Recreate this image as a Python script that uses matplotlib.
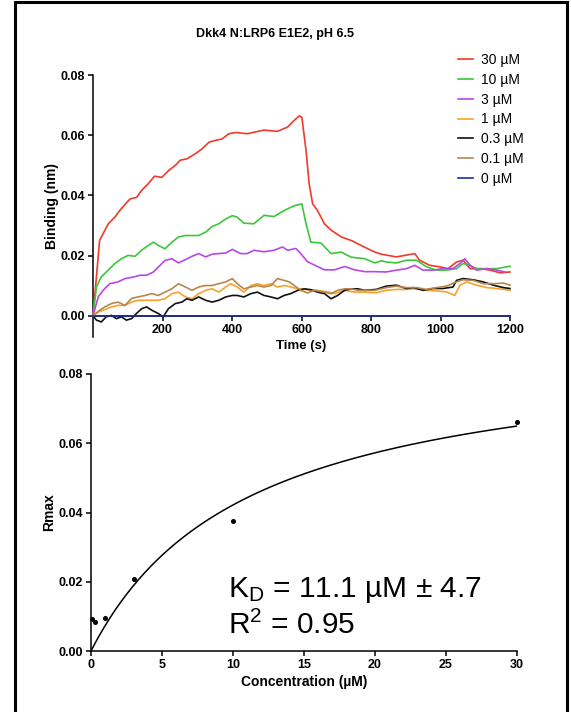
import numpy as np
import matplotlib
matplotlib.use('Agg')
import matplotlib.pyplot as plt
from matplotlib.patches import Rectangle

plt.rcParams['font.family'] = ['Liberation Sans', 'DejaVu Sans']
plt.rcParams['mathtext.fontset'] = 'custom'
plt.rcParams['mathtext.rm'] = 'Liberation Sans'
plt.rcParams['mathtext.it'] = 'Liberation Sans:italic'
plt.rcParams['mathtext.bf'] = 'Liberation Sans:bold'

# association / dissociation traces (time in s, binding in nm)
red_t = [0, 19, 29, 44, 63, 77, 92, 106, 126, 140, 159, 177, 198, 218, 237, 251, 271, 295, 314, 334,
         353, 372, 391, 411, 444, 492, 531, 560, 574, 593, 601, 613, 622, 632, 646, 666, 686, 715, 744, 782,
         811, 830, 844, 873, 902, 926, 940, 969, 998, 1022, 1046, 1065, 1085, 1114, 1143, 1172, 1200]
red_v = [0, .0251, .0273, .0306, .0328, .035, .037, .0388, .0394, .0417, .0439, .0464, .046, .0483, .05, .0517, .0522, .0539, .0555, .0577,
         .0583, .0588, .0605, .0609, .0605, .0617, .0613, .0627, .0644, .0664, .066, .055, .0439, .0372, .035, .0306, .0284, .0262, .025, .0228,
         .0212, .0205, .0202, .0196, .0202, .0207, .0185, .0168, .0163, .0157, .0179, .0185, .0157, .0157, .0152, .0143, .0146]

green_t = [0, 10, 24, 44, 63, 82, 101, 121, 140, 159, 174, 188, 207, 227, 246, 266, 285, 304, 324, 343,
           362, 382, 401, 415, 434, 463, 492, 521, 550, 579, 601, 613, 627, 656, 685, 714, 743, 782, 811, 830,
           844, 873, 902, 931, 960, 988, 1017, 1046, 1065, 1085, 1104, 1133, 1162, 1200]
green_v = [0, .0096, .013, .0152, .0174, .019, .0201, .0198, .0218, .0234, .0245, .0234, .0223, .0245, .0262, .0267, .0267, .0267, .0278, .0297,
           .0306, .0322, .0333, .0328, .0308, .0306, .0334, .033, .035, .0366, .0372, .0306, .0245, .0242, .0207, .0212, .0195, .019, .0176, .0183,
           .0179, .0176, .0185, .0185, .0163, .0152, .0152, .0157, .0174, .0168, .0157, .0157, .0157, .0165]

purple_t = [0, 15, 29, 48, 72, 92, 116, 135, 154, 174, 188, 207, 227, 246, 266, 285, 304, 324, 343, 362,
            382, 401, 425, 444, 463, 492, 521, 545, 560, 584, 598, 617, 637, 666, 695, 724, 753, 782, 811, 844,
            873, 902, 926, 950, 979, 1007, 1036, 1056, 1070, 1085, 1104, 1133, 1162, 1185]
purple_v = [0, .0063, .0085, .0107, .0113, .0124, .0129, .0135, .0135, .0146, .0162, .0184, .019, .0176, .0187, .0198, .0207, .0196, .0205, .0207,
            .0209, .0221, .0207, .0207, .0218, .0213, .0218, .0229, .0218, .0224, .0207, .018, .0169, .0153, .0153, .0164, .0153, .0147, .0147, .0146,
            .0152, .0157, .0168, .0152, .0152, .0157, .0157, .0174, .019, .0168, .0152, .0157, .0152, .0146]

orange_t = [0, 15, 34, 53, 72, 92, 111, 130, 150, 169, 188, 207, 227, 246, 266, 285, 304, 324, 343, 362,
            382, 396, 415, 434, 454, 473, 492, 512, 531, 550, 569, 589, 617, 646, 675, 695, 724, 753, 782, 815,
            844, 873, 902, 931, 960, 988, 1017, 1041, 1056, 1075, 1104, 1133, 1162, 1200]
orange_v = [0, .0013, .0021, .003, .0035, .0035, .0046, .0052, .0052, .0052, .0052, .0057, .0074, .0079, .0063, .0057, .0074, .0085, .009, .0079,
            .0096, .0107, .0096, .0079, .0101, .0107, .0101, .0107, .0096, .0101, .0096, .009, .0087, .0085, .0079, .0074, .0085, .0079, .0079, .0077,
            .0085, .0088, .0088, .0091, .0085, .0083, .008, .0068, .0102, .0113, .0102, .0094, .0091, .0085]

black_t = [0, 10, 24, 38, 53, 67, 82, 96, 111, 125, 140, 154, 169, 188, 202, 217, 237, 256, 270, 285,
           304, 324, 343, 362, 382, 401, 415, 434, 454, 473, 492, 512, 531, 550, 569, 589, 608, 627, 646, 666,
           685, 704, 724, 743, 762, 782, 815, 844, 873, 902, 921, 950, 979, 1007, 1036, 1046, 1065, 1094, 1123, 1152,
           1181, 1200]
black_v = [0, -.0014, -.002, -.0003, .0002, -.0009, -.0003, -.0014, -.0009, .0008, .0024, .003, .0019, .0008, -.0003, .0024, .0041, .0046, .0057, .0052,
           .0063, .0052, .0046, .0052, .0063, .0068, .0068, .0063, .0074, .0079, .0068, .0063, .0057, .0068, .0074, .0085, .009, .0087, .0079, .0074,
           .0057, .0068, .0085, .009, .009, .0085, .0088, .0099, .0102, .0091, .0094, .0085, .0091, .0091, .0096, .0118, .0124, .012, .0113, .0102,
           .0094, .0091]

brown_t = [0, 19, 34, 53, 72, 92, 111, 130, 150, 169, 188, 207, 227, 246, 266, 285, 304, 324, 343, 362,
           382, 401, 415, 434, 454, 473, 492, 512, 531, 550, 565, 579, 598, 617, 637, 666, 685, 704, 724, 743,
           762, 782, 811, 844, 873, 902, 931, 960, 988, 1017, 1046, 1065, 1094, 1123, 1152, 1181, 1200]
brown_v = [0, .0019, .003, .0041, .0046, .0035, .0058, .0063, .0068, .0074, .0068, .0079, .009, .0107, .0096, .0085, .0096, .0101, .0101, .0107,
           .0113, .0124, .0107, .009, .0096, .0101, .0096, .0101, .0124, .0118, .0113, .0101, .0085, .0076, .0085, .0079, .0074, .0085, .009, .009,
           .0085, .0085, .0085, .0094, .0099, .0094, .0094, .0088, .0094, .0099, .0113, .012, .0118, .0107, .0107, .0109, .0102]

blank_t = [0, 1200]
blank_v = [0, 0]

# steady state fit
conc = [0.1, 0.3, 1, 3, 10, 30]
rmax = [0.0092, 0.0084, 0.0096, 0.0208, 0.0375, 0.066]
kd = 11.1
bmax = 0.089

fig = plt.figure(figsize=(5.71, 7.12), dpi=100)

# ---- top panel ----
ax1 = fig.add_axes([93/571, 1 - 337/712, 417/571, 262/712])
series = [
    (red_t, red_v, '#f2392b', '30 µM'),
    (green_t, green_v, '#3cc63a', '10 µM'),
    (purple_t, purple_v, '#b847e6', '3 µM'),
    (orange_t, orange_v, '#f8a12e', '1 µM'),
    (black_t, black_v, '#111111', '0.3 µM'),
    (brown_t, brown_v, '#b5874e', '0.1 µM'),
    (blank_t, blank_v, '#1f2e9c', '0 µM'),
]
for t, v, c, lab in series:
    ax1.plot(t, v, color=c, lw=1.2, label=lab, zorder=3 if lab != '0 µM' else 4, clip_on=False)

ax1.set_xlim(0, 1200)
ax1.set_ylim(-0.007, 0.08)
ax1.spines['top'].set_visible(False)
ax1.spines['right'].set_visible(False)
ax1.spines['bottom'].set_position(('data', 0))
for s in ['left', 'bottom']:
    ax1.spines[s].set_linewidth(1.1)
ax1.set_xticks([200, 400, 600, 800, 1000, 1200], labels=['200', '400', '600', '800', '1000', '1200'],
               fontweight='bold', fontsize=9)
ax1.set_yticks([0, 0.02, 0.04, 0.06, 0.08], labels=['0.00', '0.02', '0.04', '0.06', '0.08'],
               fontweight='bold', fontsize=9)
ax1.tick_params(direction='out', length=3.5, width=1.1, pad=2)
ax1.set_ylabel('Binding (nm)', fontweight='bold', fontsize=10, labelpad=1)
ax1.set_xlabel('Time (s)', fontweight='bold', fontsize=9.5, labelpad=3.5)

fig.text(275/571, 1 - 34/712, 'Dkk4 N:LRP6 E1E2, pH 6.5', ha='center', va='center',
         fontweight='bold', fontsize=9)

fig.legend(loc='upper left', bbox_to_anchor=(458/571, 1 - 53/712), frameon=False, fontsize=10,
           handlelength=1.1, handletextpad=0.55, labelspacing=0.42, borderpad=0, borderaxespad=0)

# ---- bottom panel ----
ax2 = fig.add_axes([91/571, 1 - 651/712, 426/571, 277/712])
xfit = np.linspace(0, 30, 200)
ax2.plot(xfit, bmax * xfit / (kd + xfit), color='black', lw=1.1)
ax2.plot(conc, rmax, 'o', color='black', ms=2.6, clip_on=False)
ax2.set_xlim(0, 30)
ax2.set_ylim(0, 0.08)
ax2.spines['top'].set_visible(False)
ax2.spines['right'].set_visible(False)
for s in ['left', 'bottom']:
    ax2.spines[s].set_linewidth(1.1)
ax2.set_xticks([0, 5, 10, 15, 20, 25, 30], labels=['0', '5', '10', '15', '20', '25', '30'],
               fontweight='bold', fontsize=9)
ax2.set_yticks([0, 0.02, 0.04, 0.06, 0.08], labels=['0.00', '0.02', '0.04', '0.06', '0.08'],
               fontweight='bold', fontsize=9)
ax2.tick_params(direction='out', length=3.5, width=1.1, pad=2)
ax2.set_ylabel('Rmax', fontweight='bold', fontsize=10, labelpad=2)
ax2.set_xlabel('Concentration (µM)', fontweight='bold', fontsize=10, labelpad=3)

fig.text(228/571, 1 - 597/712, r'K$_{\mathrm{D}}$ = 11.1 µM ± 4.7', ha='left', va='baseline', fontsize=21.5)
fig.text(228/571, 1 - 634/712, r'R$^{\mathrm{2}}$ = 0.95', ha='left', va='baseline', fontsize=21.5)

# outer frame
fig.patches.append(Rectangle((15/571, -0.05), 552/571, 1.05 - 2/712, transform=fig.transFigure,
                             fill=False, edgecolor='black', lw=2.2))

fig.savefig('out.png', dpi=100)
